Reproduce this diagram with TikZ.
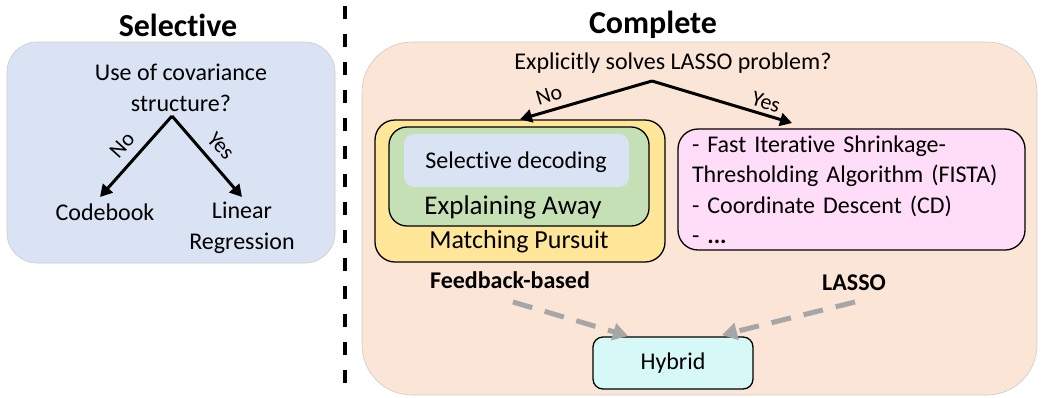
\documentclass[tikz,border=0pt]{standalone}
\usepackage{fontspec}
\setmainfont[Ligatures=NoCommon]{Carlito}
\usetikzlibrary{arrows.meta}
\definecolor{lblue}{HTML}{DAE3F3}
\definecolor{peach}{HTML}{FBE5D6}
\definecolor{myyellow}{HTML}{FFE699}
\definecolor{mygreen}{HTML}{C5E0B4}
\definecolor{mypink}{HTML}{FFDDF8}
\definecolor{mycyan}{HTML}{D6F9F8}
\definecolor{arrgray}{HTML}{A6A6A6}
\begin{document}
\begin{tikzpicture}[x=1pt,y=-1pt,
  txt/.style={font=\fontsize{24}{31}\selectfont, inner sep=0pt, align=center},
  lbl/.style={font=\fontsize{22}{26}\selectfont, inner sep=0pt},
  ttl/.style={font=\bfseries\fontsize{32}{38}\selectfont, inner sep=0pt},
  btxt/.style={font=\bfseries\fontsize{24}{29}\selectfont, inner sep=0pt},
  region/.style={draw=black!20, line width=0.6pt, inner sep=0pt},
  boxd/.style={draw=black, line width=1.3pt, inner sep=0pt},
  arr/.style={line width=3pt, -{Triangle[length=12pt,width=13pt]}},
  garr/.style={line width=5pt, draw=arrgray, dash pattern=on 20pt off 13pt,
    -{Triangle[length=15pt,width=17pt,fill=arrgray]}}
]
\useasboundingbox (0,0) rectangle (1041,397);

% regions
\node[region, fill=lblue, rounded corners=30pt, minimum width=328pt, minimum height=221pt] (selbox) at (171,152.5) {};
\node[region, fill=peach, rounded corners=50pt, minimum width=675pt, minimum height=353pt] (combox) at (699.5,218.5) {};

% divider
\coordinate (dtop) at (345,6);
\coordinate (dbot) at (345,397);
\draw[line width=4pt, dash pattern=on 13pt off 15pt] (dtop) -- (dbot);

% titles
\node[ttl] (seltitle) at (178,25) {Selective};
\node[ttl] (comtitle) at (653,25) {Complete};

% selective tree
\node[txt] (q1) at (181,87.5) {Use of covariance\\structure?};
\coordinate (apexL) at (172,116);
\node[txt] (codebook) at (105,212) {Codebook};
\node[txt] (linreg) at (242,227.5) {Linear\\Regression};
\coordinate (tipL1) at (100,197);
\coordinate (tipL2) at (242,197);
\draw[arr] (apexL) -- (tipL1);
\draw[arr] (apexL) -- (tipL2);
\node[lbl, rotate=48] (noL) at (122,145) {No};
\node[lbl, rotate=-48] (yesL) at (221,146) {Yes};

% complete tree
\node[txt] (q2) at (673,63) {Explicitly solves LASSO problem?};
\coordinate (apexR) at (652,81);

\node[boxd, fill=myyellow, rounded corners=20pt, minimum width=290pt, minimum height=142pt] (mp) at (520,191) {};
\node[boxd, fill=mygreen, rounded corners=18pt, minimum width=260pt, minimum height=99pt] (ea) at (519,176.5) {};
\node[inner sep=0pt, fill=lblue, rounded corners=10pt, minimum width=225pt, minimum height=53pt] (sd) at (516.5,160.5) {};
\node[txt] (sdtxt) at (516,162) {Selective decoding};
\node[txt, font=\fontsize{27}{31}\selectfont] (eatxt) at (513,207) {Explaining Away};
\node[txt, font=\fontsize{26}{31}\selectfont] (mptxt) at (519,242) {Matching Pursuit};

\node[boxd, fill=mypink, rounded corners=20pt, minimum width=347pt, minimum height=121pt,
  text width=319pt, align=left, font=\fontsize{24}{30.5}\selectfont] (lasso) at (851.5,189.5)
  {- Fast Iterative Shrinkage-\\Thresholding Algorithm (FISTA)\\- Coordinate Descent (CD)\\- \textbf{...}};

\coordinate (tipR2) at (792,123);
\draw[arr] (apexR) -- (mp.north);
\draw[arr] (apexR) -- (tipR2);
\node[lbl, rotate=17] (noR) at (549,95) {No};
\node[lbl, rotate=-17] (yesR) at (766,102) {Yes};

\node[btxt] (fb) at (510,280) {Feedback-based};
\node[btxt] (lassolbl) at (854,283) {LASSO};

\node[boxd, fill=mycyan, rounded corners=10pt, minimum width=160pt, minimum height=52pt, font=\fontsize{24}{29}\selectfont] (hyb) at (673,363) {Hybrid};

\coordinate (g1s) at (513,302);
\coordinate (g1e) at (628,336);
\coordinate (g2s) at (855,302);
\coordinate (g2e) at (722,335);
\draw[garr] (g1s) -- (g1e);
\draw[garr] (g2s) -- (g2e);
\end{tikzpicture}
\end{document}
